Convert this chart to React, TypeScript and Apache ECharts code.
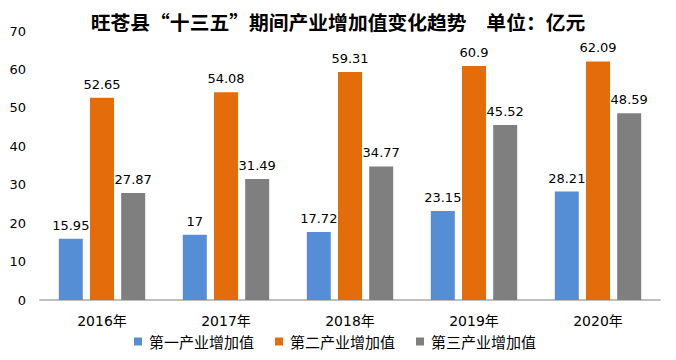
import React, { useEffect, useRef } from "react";
import * as echarts from "echarts";

const categories = ["2016年", "2017年", "2018年", "2019年", "2020年"];
const primary = [15.95, 17, 17.72, 23.15, 28.21];
const secondary = [52.65, 54.08, 59.31, 60.9, 62.09];
const tertiary = [27.87, 31.49, 34.77, 45.52, 48.59];
const seriesNames = ["第一产业增加值", "第二产业增加值", "第三产业增加值"];
const titleText = "旺苍县“十三五”期间产业增加值变化趋势　单位：亿元";

const FONT = "'DejaVu Sans', 'Noto Sans CJK SC', sans-serif";

export default function App() {
  const ref = useRef<HTMLDivElement>(null);
  useEffect(() => {
    document.body.style.margin = "0";
    const chart = echarts.init(ref.current!, null, { renderer: "svg" });
    const label = {
      show: true,
      position: "top" as const,
      color: "#000",
      fontSize: 13,
      fontFamily: FONT,
      distance: 7,
    };
    chart.setOption({
      animation: false,
      title: {
        text: titleText,
        left: "center",
        top: 7,
        textStyle: { fontSize: 19.8, fontWeight: "bold", color: "#000", fontFamily: "'Noto Sans CJK SC', sans-serif" },
      },
      legend: {
        top: 329,
        left: 129,
        itemWidth: 8,
        itemHeight: 8,
        itemGap: 21,
        icon: "rect",
        textStyle: { fontSize: 15, color: "#000", fontFamily: "'Noto Sans CJK SC', sans-serif", padding: [0, 0, 0, 2] },
        data: seriesNames,
      },
      grid: { left: 40, right: 16, top: 31, bottom: 60 },
      xAxis: {
        type: "category",
        data: categories,
        axisLine: { lineStyle: { color: "#bfbfbf", width: 2 } },
        axisTick: { show: false },
        axisLabel: { color: "#000", fontSize: 14, fontFamily: FONT, margin: 14 },
      },
      yAxis: {
        type: "value",
        min: 0,
        max: 70,
        interval: 10,
        splitLine: { show: false },
        axisLine: { show: false },
        axisTick: { show: false },
        axisLabel: { color: "#000", fontSize: 13, fontFamily: FONT, margin: 14 },
      },
      series: [
        { name: seriesNames[0], type: "bar", data: primary, itemStyle: { color: "#558ED5" }, barWidth: 24, barGap: "30%", label },
        { name: seriesNames[1], type: "bar", data: secondary, itemStyle: { color: "#E46C0A" }, barWidth: 24, barGap: "30%", label },
        { name: seriesNames[2], type: "bar", data: tertiary, itemStyle: { color: "#7F7F7F" }, barWidth: 24, barGap: "30%", label },
      ],
    });
    return () => chart.dispose();
  }, []);
  return <div ref={ref} style={{ width: 676, height: 360 }} />;
}
